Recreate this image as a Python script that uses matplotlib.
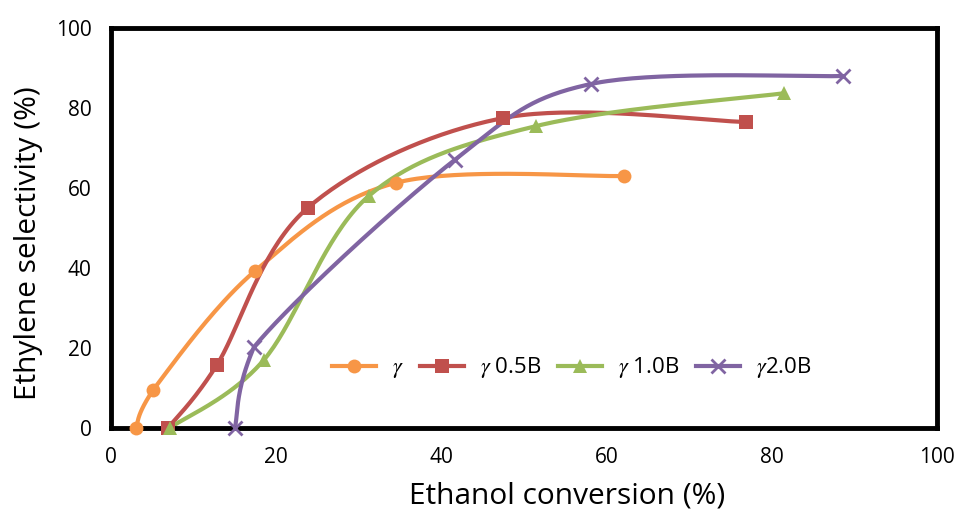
import numpy as np
import matplotlib
matplotlib.use("Agg")
import matplotlib.pyplot as plt

# Ethanol conversion (%) and ethylene selectivity (%) per catalyst
labels = [r"$\gamma$", r"$\gamma$ 0.5B", r"$\gamma$ 1.0B", r"$\gamma$2.0B"]
conv_g = [3.0, 5.1, 17.4, 34.5, 62.1]
sel_g = [0.0, 9.5, 39.2, 61.3, 63.0]
conv_g05 = [6.9, 12.8, 23.8, 47.5, 76.9]
sel_g05 = [0.0, 15.7, 55.0, 77.5, 76.5]
conv_g10 = [7.1, 18.5, 31.2, 51.5, 81.5]
sel_g10 = [0.0, 17.0, 58.0, 75.5, 83.7]
conv_g20 = [15.0, 17.3, 41.6, 58.1, 88.6]
sel_g20 = [0.0, 20.2, 67.0, 86.0, 88.0]

colors = ["#F79646", "#C0504D", "#9BBB59", "#8064A2"]
markers = ["o", "s", "^", "x"]
msizes = [10, 10.5, 10.5, 9.5]

plt.rcParams["font.family"] = ["Open Sans", "DejaVu Sans"]
plt.rcParams["mathtext.fontset"] = "stix"


def smooth(x, y, xr=100.0, yr=100.0, aspect=2.07, n=40):
    """Bezier smoothing through the points, control points kept inside each segment's x-span."""
    px = np.asarray(x, float) / xr * aspect
    py = np.asarray(y, float) / yr
    P = np.column_stack([px, py])
    ext = np.vstack([P[0], P, P[-1]])
    out = []
    t = np.linspace(0, 1, n)[:, None]
    for i in range(len(P) - 1):
        p0, p1, p2, p3 = ext[i], ext[i + 1], ext[i + 2], ext[i + 3]
        c1 = p1 + (p2 - p0) / 6.0
        c2 = p2 - (p3 - p1) / 6.0
        lo, hi = min(p1[0], p2[0]), max(p1[0], p2[0])
        c1[0] = np.clip(c1[0], lo, hi)
        c2[0] = np.clip(c2[0], lo, hi)
        seg = ((1 - t) ** 3) * p1 + 3 * ((1 - t) ** 2) * t * c1 + 3 * (1 - t) * t ** 2 * c2 + t ** 3 * p2
        out.append(seg if i == 0 else seg[1:])
    S = np.vstack(out)
    return S[:, 0] / aspect * xr, S[:, 1] * yr


fig = plt.figure(figsize=(9.59, 5.13), dpi=100)
ax = fig.add_axes([111 / 959, 1 - 428 / 513, (937 - 111) / 959, 400 / 513])

series = [(conv_g, sel_g), (conv_g05, sel_g05), (conv_g10, sel_g10), (conv_g20, sel_g20)]
for (xv, yv), lab, c, m, ms in zip(series, labels, colors, markers, msizes):
    sx, sy = smooth(xv, yv)
    ax.plot(sx, sy, color=c, lw=3, solid_capstyle="round", zorder=2)
    ax.plot(xv, yv, linestyle="none", marker=m, color=c, markersize=ms,
            markeredgewidth=2 if m == "x" else 0, zorder=3, clip_on=False)
    ax.plot([], [], color=c, lw=3, marker=m, markersize=ms,
            markeredgewidth=2 if m == "x" else 0, label=lab)

ax.set_xlim(0, 100)
ax.set_ylim(0, 100)
ax.set_xticks(np.arange(0, 101, 20))
ax.set_yticks(np.arange(0, 101, 20))
ax.tick_params(length=0, labelsize=15, pad=14)
for s in ax.spines.values():
    s.set_linewidth(3.5)
    s.set_color("black")

ax.set_xlabel("Ethanol conversion (%)", fontsize=21.5, labelpad=11)
ax.set_ylabel("Ethylene selectivity (%)", fontsize=21.5, labelpad=13)
ax.xaxis.set_label_coords(0.552, -0.135)
ax.yaxis.set_label_coords(-0.082, 0.4625)

leg = ax.legend(loc="center left", bbox_to_anchor=(0.267, 0.15), ncol=4, frameon=False,
                fontsize=16, handlelength=2.0, columnspacing=0.75, handletextpad=0.7,
                borderpad=0, borderaxespad=0)

fig.savefig("out.png", dpi=100)
